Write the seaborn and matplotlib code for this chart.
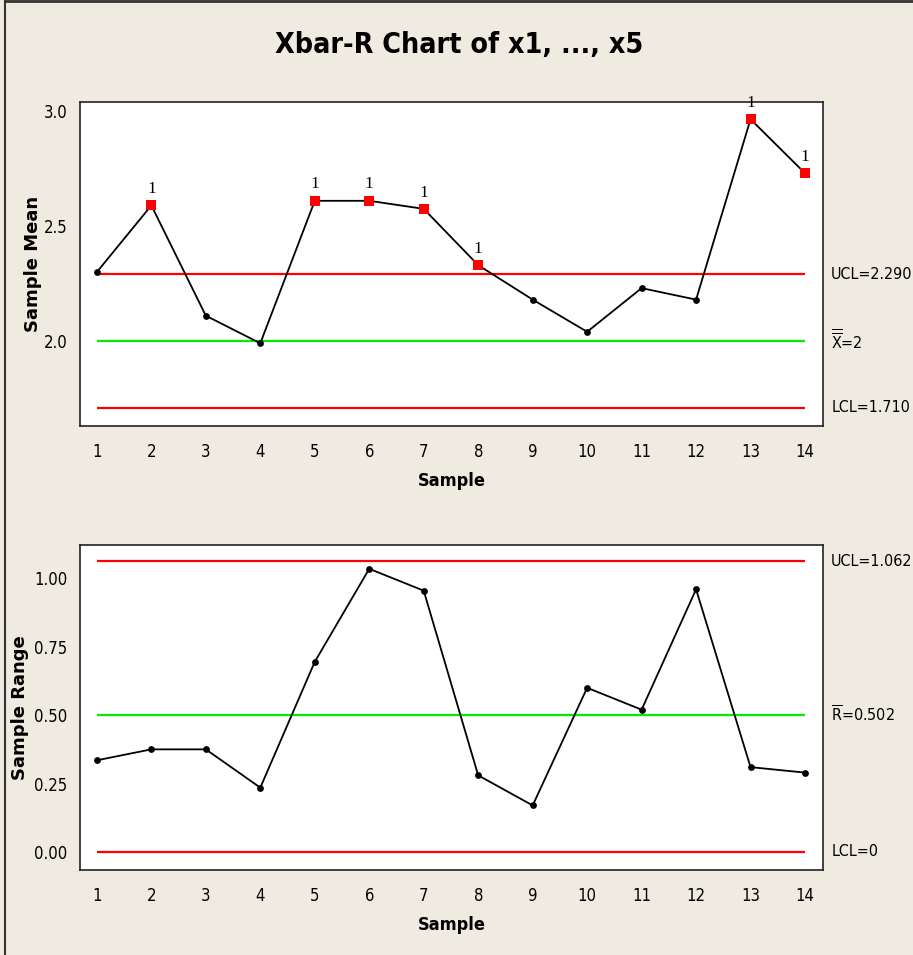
import numpy as np
import pandas as pd
import matplotlib
matplotlib.use("Agg")
import matplotlib.pyplot as plt
from matplotlib.lines import Line2D
import seaborn as sns

# ---- data ----
samples = list(range(1, 15))
sample_means = [2.30, 2.59, 2.11, 1.99, 2.61, 2.61, 2.575, 2.33, 2.18, 2.04, 2.23, 2.18, 2.965, 2.73]
sample_ranges = [0.335, 0.375, 0.375, 0.235, 0.695, 1.035, 0.955, 0.28, 0.17, 0.60, 0.52, 0.96, 0.31, 0.29]
mean_flagged = [2, 5, 6, 7, 8, 13, 14]
range_flagged = []
xbar_center, xbar_ucl, xbar_lcl = 2.0, 2.290, 1.710
r_center, r_ucl, r_lcl = 0.502, 1.062, 0.0
xbar_labels = ["UCL=2.290", "$\\overline{\\overline{\\mathrm{X}}}$=2", "LCL=1.710"]
r_labels = ["UCL=1.062", "$\\overline{\\mathrm{R}}$=0.502", "LCL=0"]
title = "Xbar-R Chart of x1, ..., x5"

BG = "#EFEBE1"
FAM = ["DejaVu Sans"]

sns.set_theme(style="white")
plt.rcParams["font.family"] = FAM
plt.rcParams["font.stretch"] = "condensed"
plt.rcParams["text.color"] = "black"
plt.rcParams["axes.labelcolor"] = "black"
plt.rcParams["xtick.color"] = "black"
plt.rcParams["ytick.color"] = "black"
plt.rcParams["mathtext.fontset"] = "dejavusans"

fig = plt.figure(figsize=(9.13, 9.55), dpi=100, facecolor=BG)

ax1 = fig.add_axes([80/913, 1-426/955, 743/913, 324/955])
ax2 = fig.add_axes([80/913, 1-870/955, 743/913, 325/955])


def draw(ax, vals, flagged, center, ucl, lcl, labels, ylabel, ylim, yticks, yfmt, ylab_x):
    df = pd.DataFrame({"Sample": samples, "Value": vals})
    df["flag"] = df["Sample"].isin(flagged)
    ax.set_facecolor("white")
    ax.hlines([ucl, lcl], 1, 14, colors="#FF0000", lw=1.6, zorder=1)
    ax.hlines([center], 1, 14, colors="#00EE00", lw=1.6, zorder=1)
    sns.lineplot(data=df, x="Sample", y="Value", ax=ax, color="black", lw=1.3, zorder=2)
    ok = df[~df["flag"]]
    bad = df[df["flag"]]
    sns.scatterplot(data=ok, x="Sample", y="Value", ax=ax, color="black", marker="o",
                    s=24, edgecolor="black", linewidth=0, zorder=3)
    if len(bad):
        sns.scatterplot(data=bad, x="Sample", y="Value", ax=ax, color="#FF0000", marker="s",
                        s=55, edgecolor="#FF0000", linewidth=0, zorder=3)
        for _, r in bad.iterrows():
            ax.annotate("1", (r["Sample"], r["Value"]), xytext=(0, 6), textcoords="offset points",
                        ha="center", va="bottom", fontsize=12.5, family="Liberation Serif",
                        fontstretch="normal")
    ax.set_xlim(0.69, 14.33)
    ax.set_ylim(*ylim)
    ax.set_xticks(samples)
    ax.set_xticklabels([str(s) for s in samples])
    ax.set_yticks(yticks)
    ax.set_yticklabels([yfmt.format(t) for t in yticks])
    ax.tick_params(axis="x", direction="out", length=8, width=1, color="#333333", labelsize=12, pad=4)
    ax.tick_params(axis="y", direction="out", length=6, width=1, color="#333333", labelsize=12, pad=3)
    for sp in ax.spines.values():
        sp.set_visible(True)
        sp.set_color("#222222")
        sp.set_linewidth(1.2)
    ax.set_xlabel("Sample", fontsize=13, fontweight="bold", labelpad=8)
    ax.set_ylabel(ylabel, fontsize=13, fontweight="bold", fontstretch="normal")
    ax.yaxis.set_label_coords(ylab_x, 0.5)
    for yv, lab in zip([ucl, center, lcl], labels):
        ax.text(1.011, yv, lab, transform=ax.get_yaxis_transform(), ha="left", va="center",
                fontsize=11.5, clip_on=False)


draw(ax1, sample_means, mean_flagged, xbar_center, xbar_ucl, xbar_lcl, xbar_labels,
     "Sample Mean", (1.63, 3.04), [2.0, 2.5, 3.0], "{:.1f}", -0.051)
draw(ax2, sample_ranges, range_flagged, r_center, r_ucl, r_lcl, r_labels,
     "Sample Range", (-0.066, 1.122), [0.0, 0.25, 0.5, 0.75, 1.0], "{:.2f}", -0.068)

fig.text(459/913, 1-45/955, title, ha="center", va="center", fontsize=20.5, fontweight="bold")

# outer frame (left and top edges)
fig.add_artist(Line2D([5/913, 5/913], [0, 1], transform=fig.transFigure, color="#333333", lw=1.5))
fig.add_artist(Line2D([5/913, 1], [1-1.5/955, 1-1.5/955], transform=fig.transFigure, color="#333333", lw=2))

fig.savefig("out.png", dpi=100, facecolor=BG)
